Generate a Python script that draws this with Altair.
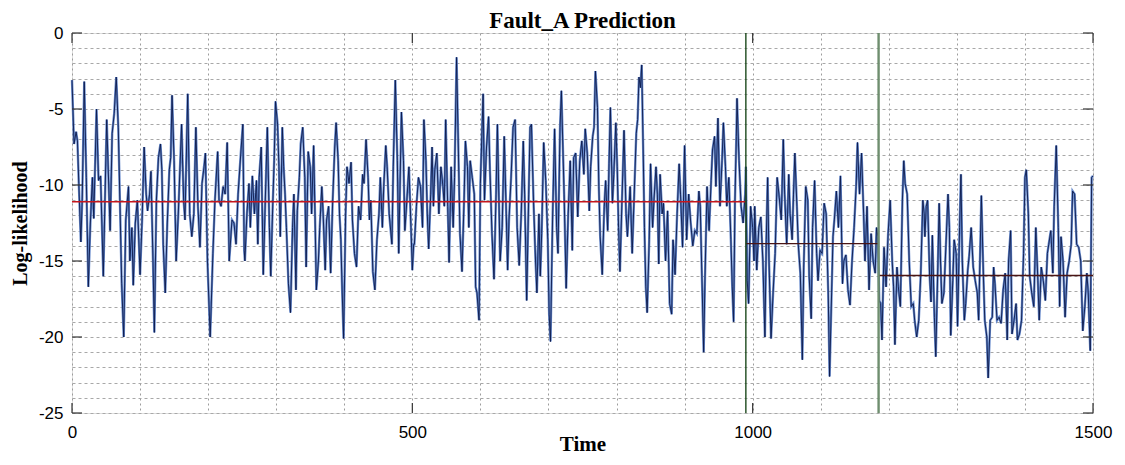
import altair as alt
import pandas as pd

# ---- data: (time, log-likelihood) ----
seg_a = [(0,-3.1),(3,-7.3),(6,-6.5),(8,-7.1),(10,-9.9),(13,-13.75),(15,-11),(18,-3.2),(21,-9.5),(24,-16.7),
         (27,-12.5),(30,-9.5),(32,-12.2),(36,-5),(39,-9.7),(42,-9.4),(46,-16),(51,-5.7),(56,-13),(59,-6.6),
         (62,-5.3),(65,-2.9),(68,-6.2),(71,-12.3),(73,-16.5),(76,-20),(79,-12.3),(83,-10.1),(85,-15),(88,-12.8),
         (90,-16.6),(93,-12.5),(96,-11),(100,-15.9),(103,-12.3),(106,-7.5),(109,-10.6),(111,-11.7),(114,-10.6),(116,-9.1),
         (119,-15),(121,-19.7),(124,-11),(127,-8.2),(130,-7.3),(132,-9),(134,-13.9),(137,-17.1),(140,-12.5),(143,-9),
         (145,-8.2),(147,-4.1),(150,-8.4),(153,-15),(156,-12.1),(161,-6),(164,-11),(166,-12.3),(170,-4),(173,-11.9),
         (176,-13.4),(179,-11.9),(182,-6.2),(185,-11.4),(188,-14.1),(191,-9.9),(194,-8.8),(196,-7.9),(199,-15),(203,-20),
         (207,-14.5),(210,-11),(214,-7.8),(216,-11),(219,-11.4),(222,-10.1),(225,-10.6),(228,-7.2),(231,-15),(235,-12.3),
         (238,-12.5),(241,-13.9),(244,-10.6),(248,-7.9),(251,-6),(253,-14.3)]
seg_b = [(254,-15),(257,-11.9),(260,-9.9),(262,-12.8),(265,-9.4),(268,-11.9),(271,-9.7),(273,-13.9),(275,-9.5),(278,-7.5),
         (281,-15.9),(284,-11),(287,-6.2),(290,-12.8),(292,-16),(295,-11.2),(297,-8.4),(299,-4.5),(302,-6),(304,-8.8),
         (306,-13.4),(309,-6.2),(311,-8.8),(313,-10.6),(315,-12.8),(318,-16.5),(321,-18.4),(324,-12.8),(326,-10.6),(329,-16.9),
         (331,-11.7),(334,-9.5),(336,-7.3),(339,-6.2),(342,-9.5),(344,-15.4),(347,-7.8),(350,-8.8),(352,-11.9),(355,-7.4),
         (357,-11.9),(359,-16.9),(362,-15),(364,-12.8),(367,-10.1),(369,-11.9),(372,-15.6),(374,-12.3),(377,-11.4),(380,-15.8),
         (383,-11),(386,-7.5),(388,-5.9),(391,-8.4),(393,-11.9),(395,-13.6),(397,-17.1),(399,-20.1),(402,-11.9),(404,-8.8),
         (407,-9.9),(410,-8.5),(412,-12.3),(415,-14.5),(418,-15.4),(421,-11.4),(424,-12.3),(427,-9.3),(429,-9.9),(432,-7),
         (435,-9.5),(437,-12.3),(439,-11),(442,-15.7),(445,-16.9),(448,-13.6),(451,-11.9),(453,-9.5),(456,-12.8),(458,-10.1),
         (461,-7.4),(463,-8.8),(466,-11.9),(470,-13.9),(472,-8.8),(475,-3.1),(478,-8.4),(480,-14.5),(484,-5.2),(487,-8.4),
         (489,-13),(492,-11),(495,-8.8),(498,-12.8),(500,-15.6),(502,-13.9)]
seg_c = [(503,-13.9),(506,-11.4),(509,-9.5),(512,-10.1),(515,-12.8),(517,-5.7),(520,-8.4),(522,-11.9),(524,-14.2),(527,-10.6),
         (529,-7.5),(531,-11.4),(533,-9),(536,-7.9),(539,-11.9),(542,-8.8),(545,-10.1),(547,-11.4),(549,-5.7),(552,-11.4),
         (554,-15.1),(557,-8.8),(560,-12.8),(562,-9.5),(565,-1.6),(567,-6.2),(570,-13.2),(573,-15.7),(576,-11),(578,-7.1),
         (581,-8.8),(583,-12.8),(585,-8.4),(588,-9.5),(591,-10.6),(593,-16.7),(595,-17.1),(598,-18.9),(600,-9.9),(604,-4),
         (606,-11),(609,-7.5),(612,-5.5),(614,-9),(617,-13.2),(620,-16.2),(623,-10.6),(625,-6),(629,-15),(632,-12.8),
         (635,-6.8),(638,-11.9),(640,-15.6),(642,-12.3),(645,-9.6),(648,-6.2),(651,-5.7),(654,-12.8),(657,-15.3),(660,-11.9),
         (663,-7.1),(665,-10.6),(668,-17.6),(671,-10.6),(673,-6.2),(675,-6),(678,-11),(681,-15),(683,-17.1),(686,-11.9),
         (688,-16),(690,-13.2),(693,-7.2),(696,-9.7),(699,-13.6),(701,-18.5),(703,-20.3),(706,-12.3),(709,-6.3),(712,-12.8),
         (714,-14.5),(717,-6.2),(719,-3.8),(723,-10.6),(726,-16.8),(729,-11.9),(732,-8.4),(735,-14.3),(737,-8.2),(740,-7.9),
         (743,-12.1),(746,-8.4),(749,-7.1),(752,-9.3)]
seg_d = [(754,-6.3),(757,-7.9),(760,-11.7),(762,-8.8),(765,-6.8),(767,-6.2),(769,-2.5),(772,-4.9),(774,-10.1),(776,-13.4),
         (779,-15.9),(782,-11.4),(784,-9.7),(787,-13),(789,-8.6),(791,-4.9),(794,-11.2),(796,-9.3),(799,-5.9),(801,-8.8),
         (803,-12.8),(805,-15.7),(808,-11),(811,-6.4),(814,-11.9),(816,-13.4),(820,-10.1),(823,-14.5),(826,-10.6),(829,-6.6),
         (831,-5.7),(833,-2.9),(835,-3.6),(837,-2.1),(839,-7.3),(841,-12.8),(843,-16.7),(845,-18.4),(848,-13.6),(850,-8.6),
         (853,-12.8),(855,-11),(858,-8.8),(860,-10.6),(862,-15.2),(864,-9.3),(867,-11.9),(869,-11.2),(872,-15),(875,-11.7),
         (878,-17.8),(881,-18.5),(883,-13.6),(886,-15.9),(889,-11.9),(892,-8.6),(894,-10.6),(897,-14.1),(900,-7.4),(903,-13.6),
         (906,-10.6),(909,-12.5),(912,-14),(915,-13),(918,-13.2),(921,-10.4),(923,-11.4),(926,-17.1),(928,-21),(930,-16),
         (933,-10.1),(936,-13),(939,-9.7),(941,-7.7),(944,-6.8),(946,-10.1),(949,-5.6),(952,-11.4),(955,-8.4),(957,-5.9),
         (960,-8.8),(962,-11.4),(965,-9.5),(968,-13.6),(970,-16.7),(972,-19),(974,-11),(976,-6.8),(977,-4.3),(980,-8.4),
         (983,-11.4),(986,-12.5),(989,-10.6),(990,-8.8),(992,-16.3),(994,-17.8),(997,-11.4),(1000,-12.8),(1002,-15)]
seg_e = [(1003,-11.4),(1006,-15.6),(1009,-12.8),(1012,-12.1),(1015,-15),(1018,-20),(1020,-13.6),(1022,-9.5),(1024,-15),(1027,-20.1),
         (1030,-17.1),(1033,-14.5),(1036,-9.5),(1039,-10.8),(1042,-12.3),(1045,-7),(1047,-10.6),(1050,-13.9),(1053,-9.3),(1055,-11.9),
         (1058,-13.6),(1060,-10.6),(1062,-7.9),(1065,-11.4),(1067,-13.9),(1070,-15.8),(1073,-21.5),(1075,-15.4),(1078,-10.1),(1081,-11),
         (1083,-16),(1086,-18.8),(1088,-12.8),(1091,-9.7),(1094,-14.5),(1096,-16.3),(1099,-14.3),(1102,-14.5),(1105,-11.2),(1108,-11.9),
         (1111,-17.1),(1113,-22.6),(1116,-17.1),(1118,-13.4),(1120,-12.3),(1123,-10.4),(1126,-12.8),(1129,-9.4),(1132,-16.5),(1134,-15),
         (1137,-14.6),(1140,-16.9),(1143,-17.9),(1146,-15),(1149,-12.8),(1152,-10.1),(1154,-7.2),(1157,-10.6),(1160,-7.9),(1163,-11.9),
         (1165,-15),(1168,-11.4),(1171,-16.9),(1174,-13.2),(1177,-15),(1180,-15.8),(1182,-12.8),(1184,-13.4),(1186,-17.6),(1188,-17.8),
         (1190,-20.2),(1193,-14.1),(1196,-16.7),(1199,-13.2),(1202,-11),(1205,-15),(1207,-16.7),(1209,-20.5),(1212,-15.4),(1214,-16.7),
         (1217,-18),(1220,-11),(1222,-8.4),(1224,-9.9),(1227,-10.6),(1230,-15),(1233,-18),(1236,-17.8),(1238,-18.9),(1241,-20),
         (1244,-18.9),(1247,-15.8),(1250,-11),(1252,-11.9)]
seg_f = [(1253,-13.4),(1255,-11.4),(1257,-11),(1260,-16),(1262,-17.7),(1264,-13.3),(1267,-18.7),(1269,-21.3),(1272,-15.4),(1274,-11.2),
         (1276,-15),(1278,-17.8),(1281,-17.1),(1284,-13.9),(1287,-10.6),(1289,-12.8),(1291,-19.9),(1294,-16.3),(1296,-13.6),(1299,-14.5),
         (1301,-19.3),(1304,-12.8),(1306,-9.3),(1308,-15),(1311,-18.9),(1313,-17.8),(1316,-15.6),(1318,-14.7),(1321,-12.8),(1324,-15.4),
         (1327,-16.3),(1330,-17.1),(1332,-18.9),(1336,-10.7),(1339,-16),(1341,-18.9),(1344,-20),(1346,-22.7),(1349,-18.9),(1352,-18.7),
         (1354,-15.4),(1356,-16.5),(1359,-18.9),(1362,-18.7),(1365,-19.1),(1368,-16.9),(1371,-15.8),(1374,-20.2),(1376,-15),(1379,-13),
         (1381,-19.8),(1384,-18.9),(1387,-17.8),(1389,-20.2),(1392,-19.8),(1395,-18.9),(1398,-14.5),(1400,-9.5),(1402,-9),(1405,-11.9),
         (1407,-16),(1410,-17.1),(1413,-18),(1416,-12.8),(1419,-16.3),(1421,-18.9),(1424,-15.4),(1427,-16.3),(1430,-17.6),(1433,-14.5),
         (1435,-13.9),(1438,-13),(1441,-15.8),(1443,-11.4),(1446,-7.4),(1449,-12.8),(1451,-18),(1453,-13.4),(1456,-15),(1459,-18.7),
         (1462,-15.8),(1465,-15),(1468,-13.9),(1470,-10.4),(1473,-10.6),(1476,-13.9),(1479,-14.1),(1482,-15),(1485,-19.6),(1488,-18),
         (1491,-15.8),(1493,-17.1),(1496,-20.9),(1498,-9.5),(1500,-9.4)]

# threshold (mean log-likelihood) segments
thr_start = [0, 990, 1185]
thr_end = [990, 1185, 1500]
thr_level = [-11.1, -13.86, -15.95]
thr_phase = ["normal", "fault", "fault"]

# fault detection instants
fault_first = [990]
fault_second = [1185]

# axis ticks / grid
x_grid = list(range(0, 1501, 100))
y_grid = list(range(-25, 1, 1))
x_major = [0, 500, 1000, 1500]
y_major = [0, -5, -10, -15, -20, -25]

# ---- build ----
df = pd.DataFrame(seg_a + seg_b + seg_c + seg_d + seg_e + seg_f, columns=["time", "loglik"])
df = df.drop_duplicates("time").sort_values("time")
thr = pd.DataFrame({"start": thr_start, "end": thr_end, "level": thr_level, "phase": thr_phase})

W, H = 1021, 380
xs = alt.Scale(domain=[0, 1500], nice=False, zero=False)
ys = alt.Scale(domain=[-25, 0], nice=False, zero=False)

x_axis = alt.Axis(values=x_grid, labelExpr="datum.value % 500 === 0 ? '' + datum.value : ''",
                  ticks=False, domain=False, grid=True, gridDash=[2, 3], gridColor="#9c9c9c", gridWidth=1,
                  labelFont="Liberation Sans", labelFontSize=17, labelColor="black", labelPadding=11,
                  labelOverlap=False, labelFlush=False, labelBound=False,
                  title="Time", titleFont="Liberation Serif", titleFontSize=21, titleFontWeight="bold",
                  titleColor="black", titleY=37, titleBaseline="alphabetic")
y_axis = alt.Axis(values=y_grid, labelExpr="datum.value % 5 === 0 ? '' + datum.value : ''",
                  ticks=False, domain=False, grid=True, gridDash=[3, 3], gridColor="#a8a8a8", gridWidth=1,
                  labelFont="Liberation Sans", labelFontSize=17, labelColor="black", labelPadding=9,
                  labelOverlap=False, labelFlush=False, labelBound=False,
                  title="Log-likelihood", titleFont="Liberation Serif", titleFontSize=20, titleFontWeight="bold",
                  titleColor="black", titleX=-46, titleY=H / 2, titleAngle=-90, titleBaseline="alphabetic")

def X(field):
    return alt.X(field, scale=xs, axis=x_axis)

def Y(field):
    return alt.Y(field, scale=ys, axis=y_axis)

base = alt.Chart(df)
line_light = base.mark_line(color="#5f84c9", strokeWidth=2.4, opacity=0.95).encode(
    x=X("time:Q"), y=Y("loglik:Q"))
line_dark = base.mark_line(color="#0c1a4c", strokeWidth=0.9).encode(
    x=X("time:Q"), y=Y("loglik:Q"))

thr_rules = alt.Chart(thr).mark_rule(strokeWidth=1.4).encode(
    x=X("start:Q"), x2="end:Q", y=Y("level:Q"),
    color=alt.Color("phase:N", scale=alt.Scale(domain=["normal", "fault"], range=["#c4161c", "#4a1515"]), legend=None),
)

v1 = alt.Chart(pd.DataFrame({"t": fault_first})).mark_rule(color="#1d4a1d", strokeWidth=1.4).encode(x=X("t:Q"))
v2 = alt.Chart(pd.DataFrame({"t": fault_second})).mark_rule(color="#6f8e6f", strokeWidth=2.4).encode(x=X("t:Q"))

xt = alt.Chart(pd.DataFrame({"v": x_major}))
yt = alt.Chart(pd.DataFrame({"v": y_major}))
tick_style = dict(color="#333333", strokeWidth=1.2)
t_bottom = xt.mark_rule(**tick_style).encode(x=X("v:Q"), y=alt.value(H), y2=alt.value(H - 10))
t_top = xt.mark_rule(**tick_style).encode(x=X("v:Q"), y=alt.value(0), y2=alt.value(10))
t_left = yt.mark_rule(**tick_style).encode(y=Y("v:Q"), x=alt.value(0), x2=alt.value(10))
t_right = yt.mark_rule(**tick_style).encode(y=Y("v:Q"), x=alt.value(W), x2=alt.value(W - 10))

chart = alt.layer(line_light, line_dark, thr_rules, v1, v2, t_bottom, t_top, t_left, t_right).properties(
    width=W, height=H,
    title=alt.TitleParams("Fault_A Prediction", font="Liberation Serif", fontSize=23, fontWeight="bold",
                          color="black", anchor="middle", offset=-9),
    autosize=alt.AutoSizeParams(type="none"),
    padding={"left": 64, "top": 25, "right": 22, "bottom": 42},
).configure_view(stroke="#7a7a7a", strokeWidth=2).configure(background="white")

chart.save("out.html", embed_options={"renderer": "svg", "actions": False})
